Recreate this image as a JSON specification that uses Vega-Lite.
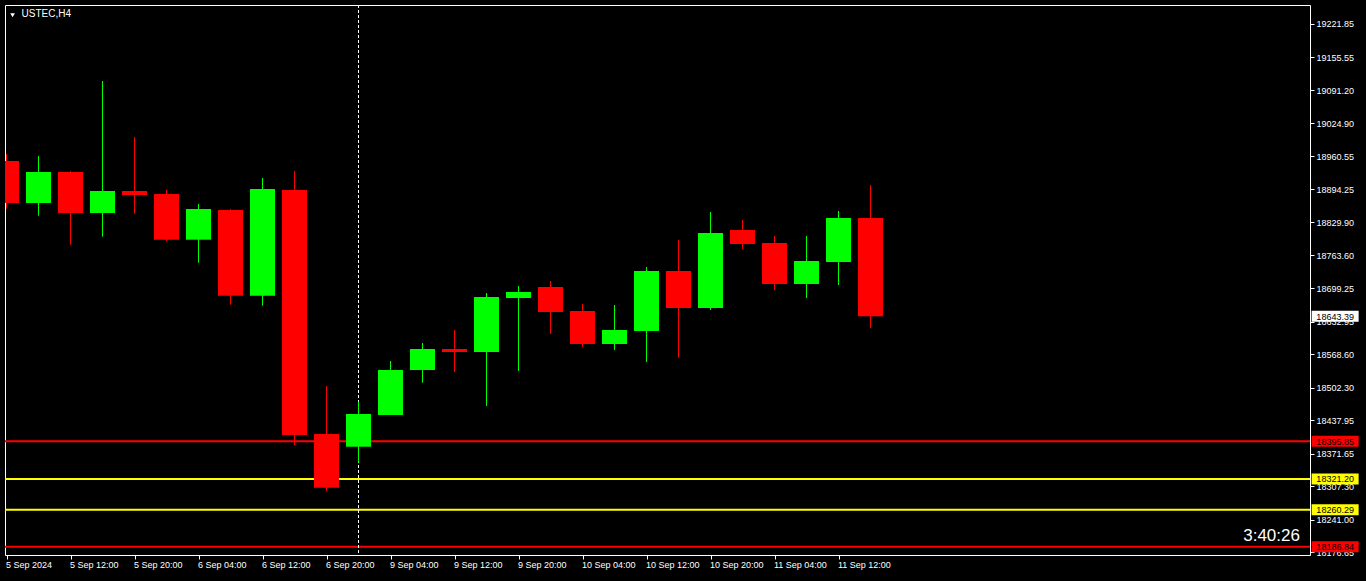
{
  "$schema": "https://vega.github.io/schema/vega-lite/v6.json",
  "width": 1305,
  "height": 550,
  "autosize": {"type": "none"},
  "padding": {"left": 5, "top": 5, "right": 56, "bottom": 26},
  "background": "#000000",
  "datasets": {
    "candles": [
      {"i": 0, "time": "2024-09-05 04:00", "open": 18950.7, "high": 18964.5, "low": 18856.2, "close": 18867.5},
      {"i": 1, "time": "2024-09-05 08:00", "open": 18867.5, "high": 18960.6, "low": 18842.4, "close": 18928.9},
      {"i": 2, "time": "2024-09-05 12:00", "open": 18928.9, "high": 18930.9, "low": 18785.0, "close": 18847.7},
      {"i": 3, "time": "2024-09-05 16:00", "open": 18847.7, "high": 19109.0, "low": 18800.8, "close": 18891.3},
      {"i": 4, "time": "2024-09-05 20:00", "open": 18891.3, "high": 18998.2, "low": 18846.3, "close": 18883.4},
      {"i": 5, "time": "2024-09-06 00:00", "open": 18885.3, "high": 18893.2, "low": 18792.3, "close": 18794.9},
      {"i": 6, "time": "2024-09-06 04:00", "open": 18794.9, "high": 18865.5, "low": 18749.3, "close": 18855.6},
      {"i": 7, "time": "2024-09-06 08:00", "open": 18853.7, "high": 18855.6, "low": 18666.2, "close": 18684.0},
      {"i": 8, "time": "2024-09-06 12:00", "open": 18684.0, "high": 18917.0, "low": 18664.2, "close": 18895.2},
      {"i": 9, "time": "2024-09-06 16:00", "open": 18893.2, "high": 18930.9, "low": 18388.5, "close": 18408.3},
      {"i": 10, "time": "2024-09-06 20:00", "open": 18410.3, "high": 18505.3, "low": 18297.4, "close": 18304.0},
      {"i": 11, "time": "2024-09-09 00:00", "open": 18385.1, "high": 18474.2, "low": 18353.4, "close": 18449.8},
      {"i": 12, "time": "2024-09-09 04:00", "open": 18447.9, "high": 18554.8, "low": 18447.9, "close": 18537.0},
      {"i": 13, "time": "2024-09-09 08:00", "open": 18537.0, "high": 18590.4, "low": 18511.8, "close": 18578.5},
      {"i": 14, "time": "2024-09-09 12:00", "open": 18578.5, "high": 18616.1, "low": 18533.0, "close": 18572.6},
      {"i": 15, "time": "2024-09-09 16:00", "open": 18572.6, "high": 18689.4, "low": 18465.7, "close": 18681.5},
      {"i": 16, "time": "2024-09-09 20:00", "open": 18679.5, "high": 18703.2, "low": 18535.0, "close": 18691.3},
      {"i": 17, "time": "2024-09-10 00:00", "open": 18701.2, "high": 18713.1, "low": 18608.2, "close": 18651.7},
      {"i": 18, "time": "2024-09-10 04:00", "open": 18653.7, "high": 18667.6, "low": 18582.5, "close": 18588.4},
      {"i": 19, "time": "2024-09-10 08:00", "open": 18588.4, "high": 18665.6, "low": 18576.5, "close": 18616.1},
      {"i": 20, "time": "2024-09-10 12:00", "open": 18614.1, "high": 18740.8, "low": 18552.8, "close": 18732.9},
      {"i": 21, "time": "2024-09-10 16:00", "open": 18732.9, "high": 18794.3, "low": 18561.3, "close": 18659.7},
      {"i": 22, "time": "2024-09-10 20:00", "open": 18659.7, "high": 18849.7, "low": 18655.7, "close": 18808.2},
      {"i": 23, "time": "2024-09-11 00:00", "open": 18814.1, "high": 18833.9, "low": 18776.5, "close": 18786.4},
      {"i": 24, "time": "2024-09-11 04:00", "open": 18788.4, "high": 18802.2, "low": 18695.3, "close": 18707.2},
      {"i": 25, "time": "2024-09-11 08:00", "open": 18707.2, "high": 18802.2, "low": 18679.5, "close": 18752.7},
      {"i": 26, "time": "2024-09-11 12:00", "open": 18750.7, "high": 18851.7, "low": 18705.2, "close": 18837.8},
      {"i": 27, "time": "2024-09-11 16:00", "open": 18837.8, "high": 18903.2, "low": 18620.1, "close": 18643.39}
    ],
    "levels": [
      {"price": 18395.85, "kind": "outer"},
      {"price": 18321.20, "kind": "inner"},
      {"price": 18260.29, "kind": "inner"},
      {"price": 18186.84, "kind": "outer"},
      {"price": 18643.39, "kind": "bid"}
    ]
  },
  "layer": [
    {
      "data": {"name": "levels"},
      "transform": [{"filter": "datum.kind !== 'bid'"}],
      "mark": {"type": "rule", "strokeWidth": 2},
      "encoding": {
        "y": {"field": "price", "type": "quantitative"},
        "color": {"field": "kind", "type": "nominal", "scale": {"domain": ["outer", "inner", "bid"], "range": ["#ff0000", "#ffff00", "#ffffff"]}, "legend": null}
      }
    },
    {
      "data": {"name": "candles"},
      "transform": [{"filter": "datum.i === 11"}],
      "mark": {"type": "rule", "color": "#ffffff", "strokeWidth": 1, "strokeDash": [3, 2]},
      "encoding": {
        "x": {"field": "i", "type": "quantitative"}
      }
    },
    {
      "data": {"name": "candles"},
      "mark": {"type": "rule", "strokeWidth": 1, "clip": true},
      "encoding": {
        "x": {
          "field": "i", "type": "quantitative",
          "scale": {"domain": [-0.046875, 40.734375], "nice": false, "zero": false, "padding": 0},
          "axis": {
            "values": [0, 2, 4, 6, 8, 10, 12, 14, 16, 18, 20, 22, 24, 26],
            "tickCount": 100,
            "labelExpr": "['5 Sep 2024','5 Sep 12:00','5 Sep 20:00','6 Sep 04:00','6 Sep 12:00','6 Sep 20:00','9 Sep 04:00','9 Sep 12:00','9 Sep 20:00','10 Sep 04:00','10 Sep 12:00','10 Sep 20:00','11 Sep 04:00','11 Sep 12:00'][datum.value / 2]",
            "orient": "bottom",
            "labelAlign": "left",
            "labelBaseline": "top",
            "labelPadding": 1,
            "labelOffset": -1
          }
        },
        "y": {
          "field": "low", "type": "quantitative",
          "scale": {"domain": [18170.74, 19259.46], "nice": false, "zero": false, "padding": 0},
          "axis": {
            "orient": "right",
            "values": [19221.85, 19155.55, 19091.20, 19024.90, 18960.55, 18894.25, 18829.90, 18763.60, 18699.25, 18632.95, 18568.60, 18502.30, 18437.95, 18371.65, 18307.30, 18241.00, 18176.65],
            "tickCount": 100,
            "format": ".2f",
            "labelPadding": 2
          }
        },
        "y2": {"field": "high"},
        "color": {"condition": {"test": "datum.close > datum.open", "value": "#00ff00"}, "value": "#ff0000"}
      }
    },
    {
      "data": {"name": "candles"},
      "mark": {"type": "bar", "size": 25, "orient": "vertical", "clip": true},
      "encoding": {
        "x": {"field": "i", "type": "quantitative"},
        "y": {"field": "open", "type": "quantitative"},
        "y2": {"field": "close"},
        "color": {"condition": {"test": "datum.close > datum.open", "value": "#00ff00"}, "value": "#ff0000"}
      }
    },
    {
      "data": {"name": "levels"},
      "mark": {"type": "point", "filled": true, "opacity": 1, "shape": "M-1,-0.234H1V0.234H-1Z", "size": 2209, "strokeWidth": 0, "clip": false},
      "encoding": {
        "x": {"datum": 41.52},
        "y": {"field": "price", "type": "quantitative"},
        "color": {"field": "kind", "type": "nominal", "legend": null}
      }
    },
    {
      "data": {"name": "levels"},
      "mark": {"type": "text", "font": "Liberation Sans", "fontSize": 9, "color": "#000000", "align": "center", "baseline": "middle", "dy": 0.5, "clip": false},
      "encoding": {
        "x": {"datum": 41.52},
        "y": {"field": "price", "type": "quantitative"},
        "text": {"field": "price", "type": "quantitative", "format": ".2f"}
      }
    },
    {
      "data": {"values": [{"countdown": "3:40:26"}]},
      "mark": {"type": "text", "font": "Liberation Sans", "fontSize": 17, "color": "#ffffff", "align": "right", "baseline": "alphabetic", "clip": false},
      "encoding": {
        "x": {"datum": 40.42},
        "y": {"datum": 18198.45},
        "text": {"field": "countdown", "type": "nominal"}
      }
    },
    {
      "data": {"values": [{"symbol": "USTEC,H4"}]},
      "mark": {"type": "text", "font": "Liberation Sans", "fontSize": 10, "color": "#ffffff", "align": "left", "baseline": "alphabetic", "clip": false},
      "encoding": {
        "x": {"datum": 0.47},
        "y": {"datum": 19235.7},
        "text": {"field": "symbol", "type": "nominal"}
      }
    },
    {
      "data": {"values": [{"symbol": "USTEC,H4"}]},
      "mark": {"type": "point", "shape": "triangle-down", "filled": true, "opacity": 1, "size": 22, "color": "#ffffff", "strokeWidth": 0, "clip": false},
      "encoding": {
        "x": {"datum": 0.19},
        "y": {"datum": 19239.2}
      }
    }
  ],
  "config": {
    "view": {"stroke": "#ffffff", "strokeWidth": 1, "fill": "#000000"},
    "axis": {
      "title": null,
      "grid": false,
      "domain": false,
      "tickColor": "#ffffff",
      "tickSize": 4,
      "labelColor": "#ffffff",
      "labelFont": "Liberation Sans",
      "labelFontSize": 9,
      "labelOverlap": false,
      "labelFlush": false,
      "labelBound": false
    }
  }
}
